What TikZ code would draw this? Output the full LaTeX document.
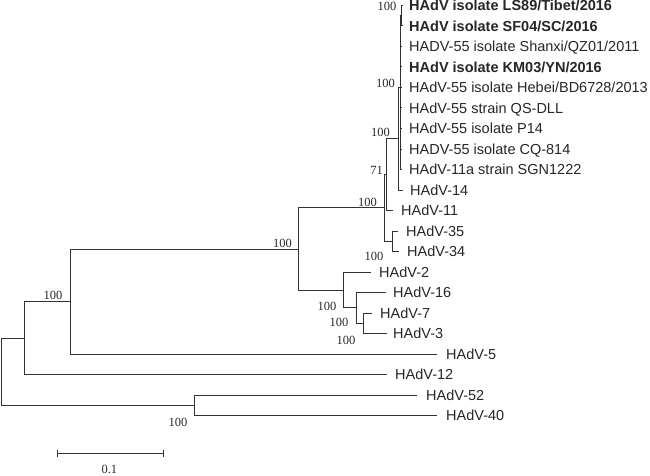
\documentclass[tikz,border=0pt]{standalone}
\usepackage{fontspec}
\setmainfont{Liberation Sans}
\newfontfamily\bootfont{Liberation Serif}
\usetikzlibrary{positioning,calc}

\begin{document}
\begin{tikzpicture}[
    x=1pt, y=-1pt,
    branch/.style={draw=black!80, line width=1pt},
    leaf/.style={inner sep=0pt, text height=10.5pt, text depth=0pt, text=black!85, font=\fontsize{14.5}{16}\selectfont},
    leafbold/.style={leaf, font=\fontsize{14.5}{16}\selectfont\bfseries},
    boot/.style={inner sep=0pt, text=black!85, font=\bootfont\fontsize{12.5}{14}\selectfont}
]
\useasboundingbox (0,0) rectangle (650,476);

% Leaves (branch tips)
\coordinate (l1) at (402,5.5);
\coordinate (l2) at (402,26);
\coordinate (l3) at (401.5,46.5);
\coordinate (l4) at (401.5,67);
\coordinate (l5) at (401.5,87.5);
\coordinate (l6) at (401.5,108);
\coordinate (l7) at (401.5,128.5);
\coordinate (l8) at (401.5,149);
\coordinate (l9) at (401.5,169.5);
\coordinate (l10) at (403,190);
\coordinate (l11) at (393,210.5);
\coordinate (l12) at (398,231);
\coordinate (l13) at (399,251.5);
\coordinate (l14) at (371,272);
\coordinate (l15) at (386,292.5);
\coordinate (l16) at (372,313);
\coordinate (l17) at (387,333.5);
\coordinate (l18) at (437,354);
\coordinate (l19) at (387,374.5);
\coordinate (l20) at (417,395);
\coordinate (l21) at (437,415.5);

% Internal nodes
\coordinate (c12) at (401.5,15.75);
\coordinate (c55) at (400,87.5);
\coordinate (n14) at (398,138.75);
\coordinate (n71) at (386,174.6);
\coordinate (n3435) at (392,241.25);
\coordinate (nB2) at (384,207.9);
\coordinate (nR) at (363,323.25);
\coordinate (nQ) at (356,307.9);
\coordinate (nP) at (343.5,290);
\coordinate (nB) at (298,249);
\coordinate (n70) at (70,301.5);
\coordinate (n24) at (24,338);
\coordinate (n194) at (194,405.25);
\coordinate (root) at (1,371.6);

% Branches
\foreach \p/\c in {root/n24, root/n194, n24/n70, n24/l19, n70/nB, n70/l18,
    n194/l20, n194/l21, nB/nB2, nB/nP, nP/l14, nP/nQ, nQ/l15, nQ/nR,
    nR/l16, nR/l17, nB2/n71, nB2/n3435, n3435/l12, n3435/l13,
    n71/n14, n71/l11, n14/c55, n14/l10, c55/c12, c12/l1, c12/l2,
    c55/l3, c55/l4, c55/l5, c55/l6, c55/l7, c55/l8, c55/l9}
    \draw[branch] (\p) |- (\c);

% Taxon names
\node[leafbold, right=7pt of l1] (t1) {HAdV isolate LS89/Tibet/2016};
\node[leafbold, right=7pt of l2] (t2) {HAdV isolate SF04/SC/2016};
\node[leaf, right=7.5pt of l3] (t3) {HADV-55 isolate Shanxi/QZ01/2011};
\node[leafbold, right=7.5pt of l4] (t4) {HAdV isolate KM03/YN/2016};
\node[leaf, right=7.5pt of l5] (t5) {HAdV-55 isolate Hebei/BD6728/2013};
\node[leaf, right=7.5pt of l6] (t6) {HAdV-55 strain QS-DLL};
\node[leaf, right=7.5pt of l7] (t7) {HAdV-55 isolate P14};
\node[leaf, right=7.5pt of l8] (t8) {HADV-55 isolate CQ-814};
\node[leaf, right=7.5pt of l9] (t9) {HAdV-11a strain SGN1222};
\node[leaf, right=7pt of l10] (t10) {HAdV-14};
\node[leaf, right=8pt of l11] (t11) {HAdV-11};
\node[leaf, right=8pt of l12] (t12) {HAdV-35};
\node[leaf, right=8pt of l13] (t13) {HAdV-34};
\node[leaf, right=8pt of l14] (t14) {HAdV-2};
\node[leaf, right=7pt of l15] (t15) {HAdV-16};
\node[leaf, right=8pt of l16] (t16) {HAdV-7};
\node[leaf, right=6pt of l17] (t17) {HAdV-3};
\node[leaf, right=9pt of l18] (t18) {HAdV-5};
\node[leaf, right=8pt of l19] (t19) {HAdV-12};
\node[leaf, right=9pt of l20] (t20) {HAdV-52};
\node[leaf, right=9pt of l21] (t21) {HAdV-40};

% Bootstrap values
\node[boot, above left=5pt and 5pt of c12] (b12) {100};
\node[boot, above left=0pt and 5pt of c55] (b55) {100};
\node[boot, above left=1.5pt and 8pt of n14] (b14) {100};
\node[boot, above left=0pt and 3pt of n71] (b71) {71};
\node[boot, above left=1.5pt and 7pt of nB2] (bB2) {100};
\node[boot, below left=11pt and 8.5pt of n3435] (b3435) {100};
\node[boot, above left=1.5pt and 6pt of nB] (bB) {100};
\node[boot, below left=12pt and 7pt of nP] (bP) {100};
\node[boot, below left=10.5pt and 7.5pt of nQ] (bQ) {100};
\node[boot, below left=12.5pt and 7.5pt of nR] (bR) {100};
\node[boot, above left=1.5pt and 7.5pt of n70] (b70) {100};
\node[boot, below left=13pt and 6.5pt of n194] (b194) {100};

% Scale bar
\coordinate (s0) at (57.7,453.3);
\coordinate (s1) at (163,453.3);
\draw[branch] (s0) -- (s1);
\draw[branch] ([yshift=3.7pt]s0) -- ([yshift=-3.7pt]s0);
\draw[branch] ([yshift=3.7pt]s1) -- ([yshift=-3.7pt]s1);
\coordinate (smid) at ($(s0)!0.5!(s1)$);
\node[boot, below=12pt of smid, xshift=-1pt] (slabel) {0.1};

\end{tikzpicture}
\end{document}
